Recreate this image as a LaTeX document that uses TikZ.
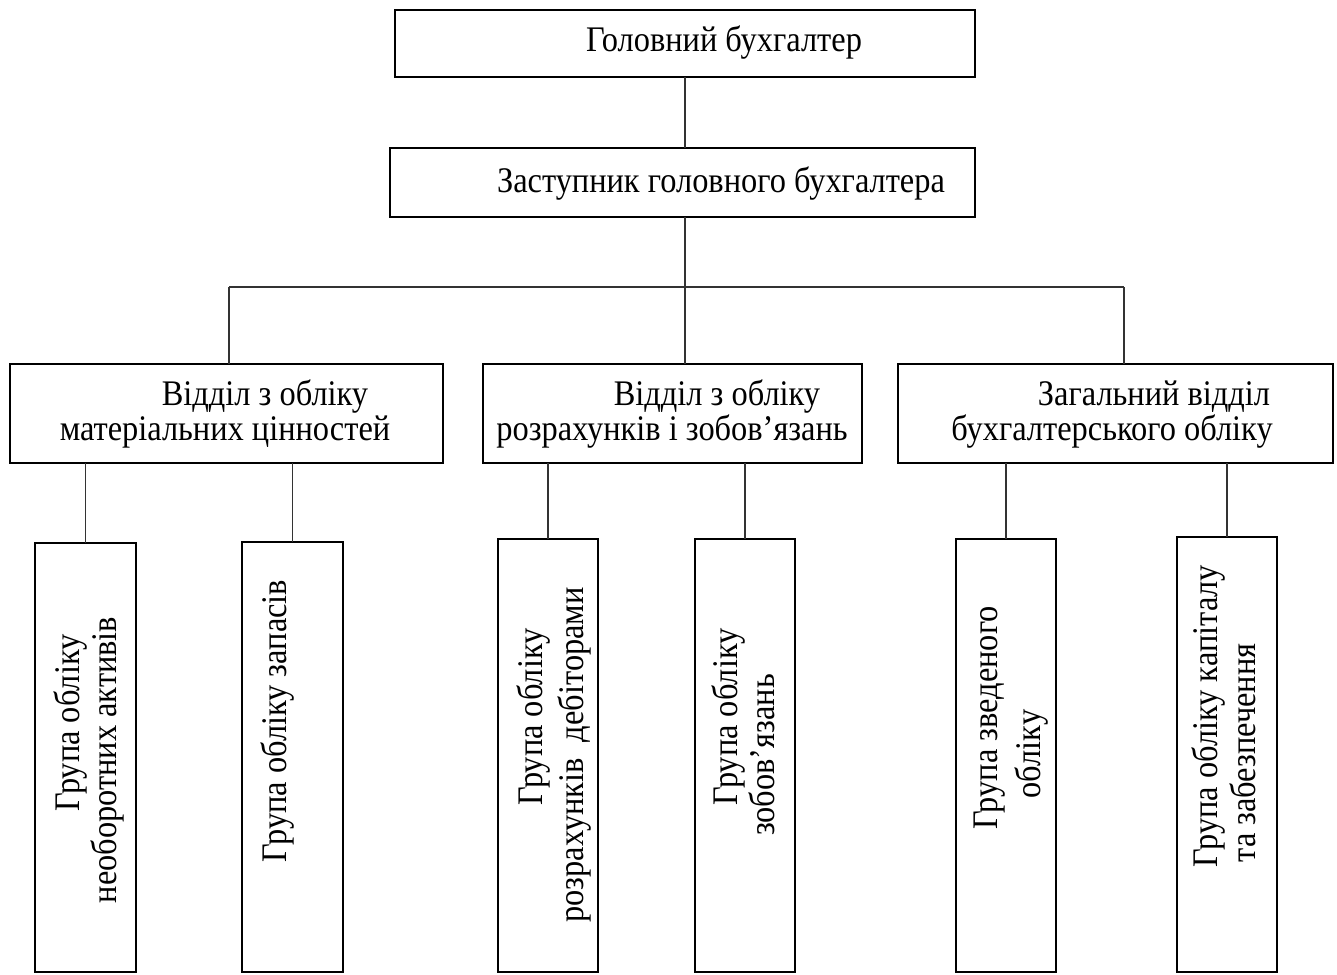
\documentclass[tikz,border=0pt]{standalone}
\usepackage{fontspec}
\setmainfont{Liberation Serif}
\newfontfamily\lblfont[FakeStretch=0.9]{Liberation Serif}
\begin{document}
\begin{tikzpicture}[x=0.5pt,y=-0.5pt,
  box/.style={draw,line width=1pt,inner sep=0pt,outer sep=0pt},
  link/.style={draw=black!80,line width=0.55pt},
  lbl/.style={inner sep=0pt,anchor=base,font=\lblfont\fontsize{18}{21}\selectfont},
  vlbl/.style={lbl,rotate=90}]
\useasboundingbox (0,0) rectangle (1337,974);

% top levels
\node[box,minimum width=290pt,minimum height=33.5pt] (chief) at (685,43.5) {};
\node[box,minimum width=292.5pt,minimum height=34.5pt] (deputy) at (682.5,182.5) {};
\node[lbl] (tchief) at (724,52) {Головний бухгалтер};
\node[lbl] (tdeputy) at (721,192) {Заступник головного бухгалтера};

% departments
\node[box,minimum width=216.5pt,minimum height=49.5pt] (d1) at (226.5,413.5) {};
\node[box,minimum width=189.5pt,minimum height=49.5pt] (d2) at (672.5,413.5) {};
\node[box,minimum width=217.5pt,minimum height=49.5pt] (d3) at (1115.5,413.5) {};
\node[lbl] (td1a) at (265,405) {Відділ з обліку};
\node[lbl] (td1b) at (225,440) {матеріальних цінностей};
\node[lbl] (td2a) at (717,405) {Відділ з обліку};
\node[lbl] (td2b) at (672,440) {розрахунків і зобов’язань};
\node[lbl] (td3a) at (1154,405) {Загальний відділ};
\node[lbl] (td3b) at (1112,440) {бухгалтерського обліку};

% groups
\node[box,minimum width=50.5pt,minimum height=214.5pt] (g1) at (85.5,757.5) {};
\node[box,minimum width=50.5pt,minimum height=215pt] (g2) at (292.5,757) {};
\node[box,minimum width=50pt,minimum height=216.5pt] (g3) at (548,755.5) {};
\node[box,minimum width=50pt,minimum height=216.5pt] (g4) at (745,755.5) {};
\node[box,minimum width=50pt,minimum height=216.5pt] (g5) at (1006,755.5) {};
\node[box,minimum width=50pt,minimum height=217.5pt] (g6) at (1227,754.5) {};

\node[vlbl] (tg1a) at (79,723) {Група обліку};
\node[vlbl] (tg1b) at (116,760) {необоротних активів};
\node[vlbl] (tg2) at (286,721) {Група обліку запасів};
\node[vlbl] (tg3a) at (542,717) {Група обліку};
\node[vlbl] (tg3b) at (583,755) {розрахунків\ \ дебіторами};
\node[vlbl] (tg4a) at (737,717) {Група обліку};
\node[vlbl] (tg4b) at (774,755) {зобов’язань};
\node[vlbl] (tg5a) at (997,718) {Група зведеного};
\node[vlbl] (tg5b) at (1040,754) {обліку};
\node[vlbl] (tg6a) at (1217,716) {Група обліку капіталу};
\node[vlbl] (tg6b) at (1255,753) {та забезпечення};

% connectors
\coordinate (trunk) at (685,287);
\coordinate (bl) at (229,287);
\coordinate (br) at (1124,287);
\draw[link] (chief.south -| trunk) -- (deputy.north -| trunk);
\draw[link] (deputy.south -| trunk) -- (trunk);
\draw[link] (bl) -- (br);
\draw[link] (bl) -- (bl |- d1.north);
\draw[link] (trunk) -- (trunk |- d2.north);
\draw[link] (br) -- (br |- d3.north);
\draw[link] (g1.north) -- (g1.north |- d1.south);
\draw[link] (g2.north) -- (g2.north |- d1.south);
\draw[link] (g3.north) -- (g3.north |- d2.south);
\draw[link] (g4.north) -- (g4.north |- d2.south);
\draw[link] (g5.north) -- (g5.north |- d3.south);
\draw[link] (g6.north) -- (g6.north |- d3.south);
\end{tikzpicture}
\end{document}
